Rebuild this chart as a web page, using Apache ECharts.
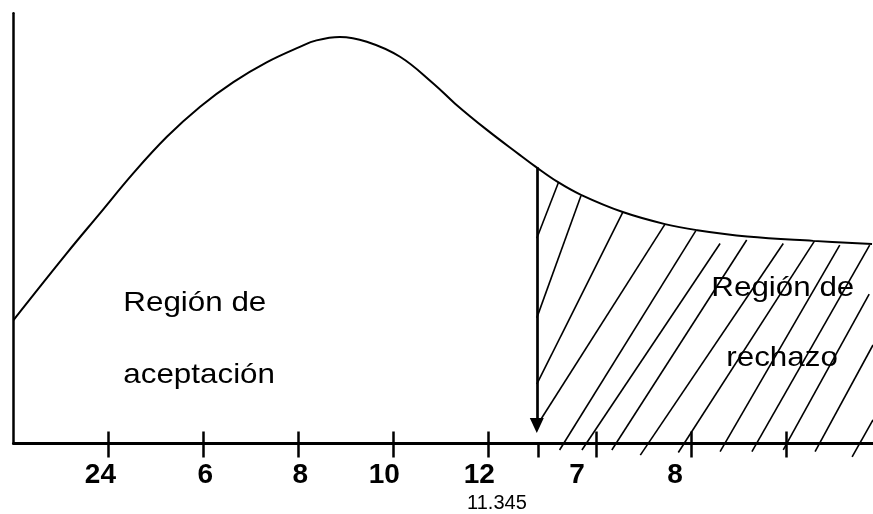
<!DOCTYPE html>
<html>
<head>
<meta charset="utf-8">
<script src="https://cdn.jsdelivr.net/npm/echarts@6/dist/echarts.min.js"></script>
<style>html,body{margin:0;padding:0;background:#fff}#main{width:873px;height:514px}</style>
</head>
<body>
<div id="main"></div>
<script>
// curve (x in axis units, y in 0..100 of the plot height)
var curveX = [2.00, 3.12, 3.82, 4.52, 5.23, 5.93, 6.63, 7.33, 8.03, 8.38, 8.87, 9.44, 10.14, 10.84, 11.30, 11.97, 12.66, 13.00, 13.46, 13.95, 14.83, 15.72, 16.39, 17.45, 18.84, 20.08];
var curveY = [28.7, 44.2, 53.5, 62.8, 71.3, 78.3, 84.0, 88.6, 92.2, 93.7, 94.5, 93.4, 89.9, 83.7, 79.0, 72.9, 67.1, 64.3, 60.8, 57.8, 53.8, 51.0, 49.6, 48.1, 47.1, 46.4];

// axis ticks and labels
var tickPos = [4, 6, 8, 10, 12, 13.06, 14.27, 16.27, 18.27];
var tickUpPos = [4, 6, 8, 10, 12, 14.27, 16.27, 18.27];
var labelPos = [3.83, 6.04, 8.04, 9.81, 11.81, 13.87, 15.93];
var labelText = ['24', '6', '8', '10', '12', '7', '8'];
var critPos = [12.18];
var critText = ['11.345'];

// arrow at the critical value
var arrowX = 13.02, arrowTop = 64.2, arrowEnd = 4.2;

// hatch strokes of the rejection region
var hatchX1 = [13.02, 13.02, 13.02, 13.03, 13.50, 13.97, 14.60, 15.20, 16.00, 16.88, 17.55, 18.21, 18.88, 19.66];
var hatchY1 = [47.7, 29.2, 13.8, 4.3, -1.5, -1.5, -1.5, -2.7, -2.1, -1.9, -1.9, -1.5, -1.9, -3.1];
var hatchX2 = [13.48, 13.95, 14.83, 15.72, 16.37, 16.88, 17.44, 18.21, 18.87, 19.40, 20.03, 20.02, 20.10, 20.10];
var hatchY2 = [60.8, 57.6, 53.7, 51.0, 49.5, 46.5, 47.3, 46.5, 47.1, 46.1, 46.1, 34.7, 22.9, 5.5];

var regionText = ['Región de', 'aceptación', 'Región de', 'rechazo'];

var curveData = curveX.map(function (x, i) { return [x, curveY[i]]; });
var hatchData = hatchX1.map(function (x, i) {
    return { coords: [[x, hatchY1[i]], [hatchX2[i], hatchY2[i]]] };
});

function nearestLabel(v, pos, txt) {
    for (var i = 0; i < pos.length; i++) {
        if (Math.abs(pos[i] - v) < 0.01) return txt[i];
    }
    return '';
}

var myChart = echarts.init(document.getElementById('main'));
var textFont = '28px "Liberation Sans", Arial, sans-serif';

var option = {
    animation: false,
    grid: { left: 13.5, right: 0, top: 13.3, bottom: 70.5, outerBoundsMode: 'none' },
    xAxis: [
        {
            type: 'value', min: 2, max: 20.1, position: 'bottom',
            axisLine: { show: true, lineStyle: { color: '#000', width: 3 } },
            axisTick: { show: true, customValues: tickPos, length: 14, lineStyle: { color: '#000', width: 2.5 } },
            axisLabel: {
                customValues: labelPos, margin: 18, color: '#000',
                fontFamily: 'Liberation Sans', fontWeight: 'bold', fontSize: 28,
                formatter: function (v) { return nearestLabel(v, labelPos, labelText); }
            },
            splitLine: { show: false }
        },
        {
            type: 'value', min: 2, max: 20.1, position: 'bottom',
            axisLine: { show: false },
            axisTick: { show: true, inside: true, customValues: tickUpPos, length: 12, lineStyle: { color: '#000', width: 2.5 } },
            axisLabel: {
                customValues: critPos, margin: 50, color: '#000',
                fontFamily: 'Liberation Sans', fontSize: 20,
                formatter: function (v) { return nearestLabel(v, critPos, critText); }
            },
            splitLine: { show: false }
        }
    ],
    yAxis: {
        type: 'value', min: 0, max: 100,
        axisLine: { show: true, lineStyle: { color: '#000', width: 2.5 } },
        axisTick: { show: false },
        axisLabel: { show: false },
        splitLine: { show: false }
    },
    series: [
        {
            type: 'line',
            data: curveData,
            smooth: 0.4,
            symbol: 'none',
            lineStyle: { color: '#000', width: 2 },
            silent: true,
            markLine: {
                silent: true,
                symbol: ['none', 'triangle'],
                symbolSize: [14, 15],
                label: { show: false },
                lineStyle: { color: '#000', width: 2.7, type: 'solid' },
                data: [[{ coord: [arrowX, arrowTop] }, { coord: [arrowX, arrowEnd] }]]
            }
        },
        {
            type: 'lines',
            coordinateSystem: 'cartesian2d',
            clip: false,
            silent: true,
            lineStyle: { color: '#000', width: 1.6, opacity: 1 },
            data: hatchData
        }
    ],
    graphic: [
        { type: 'text', x: 123.3, y: 303, scaleX: 1.12, z: 10, style: { text: regionText[0], font: textFont, fill: '#000', verticalAlign: 'middle' } },
        { type: 'text', x: 123.3, y: 375.3, scaleX: 1.12, z: 10, style: { text: regionText[1], font: textFont, fill: '#000', verticalAlign: 'middle' } },
        { type: 'text', x: 711.3, y: 288.6, scaleX: 1.12, z: 10, style: { text: regionText[2], font: textFont, fill: '#000', verticalAlign: 'middle' } },
        { type: 'text', x: 726.3, y: 358.6, scaleX: 1.12, z: 10, style: { text: regionText[3], font: textFont, fill: '#000', verticalAlign: 'middle' } }
    ]
};
myChart.setOption(option);
</script>
</body>
</html>
